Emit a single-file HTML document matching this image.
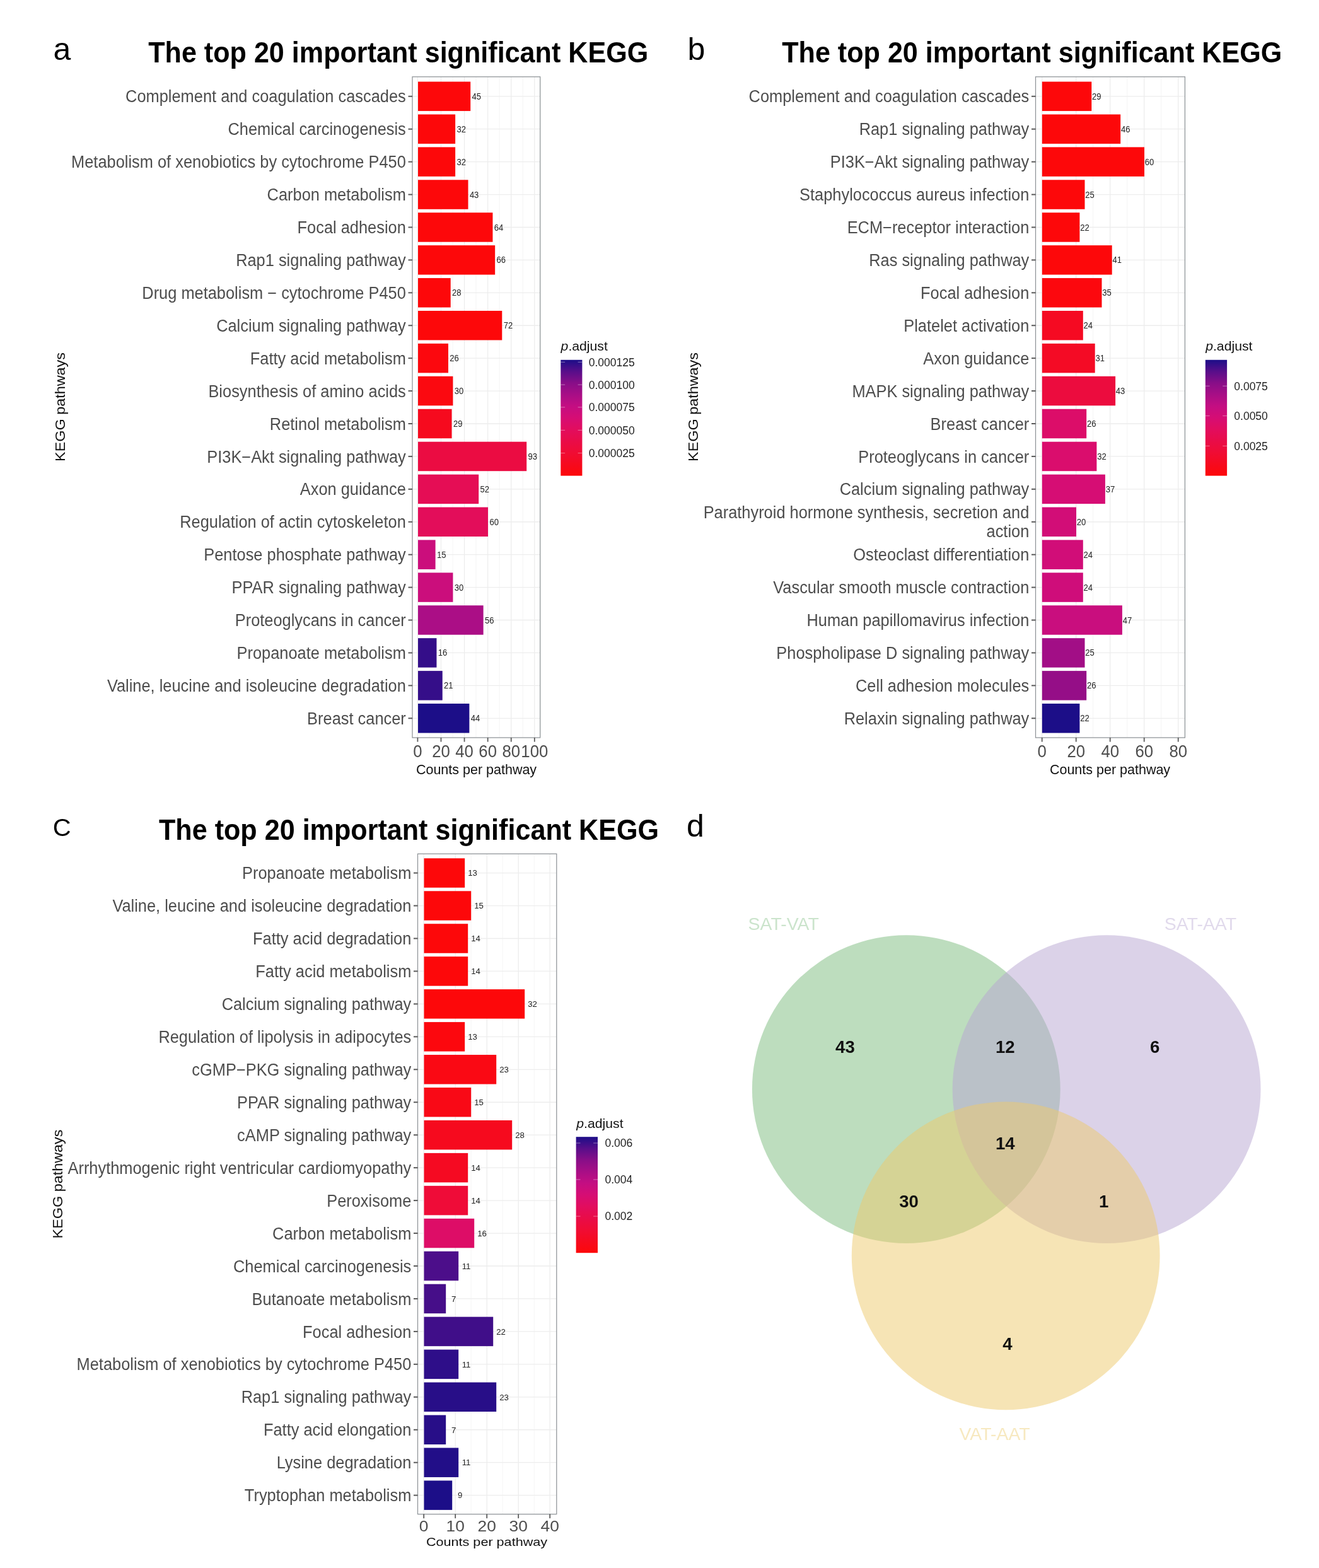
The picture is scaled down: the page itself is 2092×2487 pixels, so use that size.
<!DOCTYPE html>
<html lang="en">
<head>
<meta charset="utf-8">
<title>KEGG pathway enrichment</title>
<style>
html,body{margin:0;padding:0;background:#fff;}
body{width:2092px;height:2487px;overflow:hidden;}
svg{display:block;font-family:'Liberation Sans', Arial, Helvetica, sans-serif;}
</style>
</head>
<body>
<svg width="2092" height="2487" viewBox="0 0 2092 2487">
<rect width="2092" height="2487" fill="#fff"/>
<rect x="654" y="121.8" width="202.70000000000005" height="1048.2" fill="#fff"/>
<line x1="680.94" y1="121.8" x2="680.94" y2="1170" stroke="#f4f4f4" stroke-width="0.9"/>
<line x1="718.02" y1="121.8" x2="718.02" y2="1170" stroke="#f4f4f4" stroke-width="0.9"/>
<line x1="755.10" y1="121.8" x2="755.10" y2="1170" stroke="#f4f4f4" stroke-width="0.9"/>
<line x1="792.18" y1="121.8" x2="792.18" y2="1170" stroke="#f4f4f4" stroke-width="0.9"/>
<line x1="829.26" y1="121.8" x2="829.26" y2="1170" stroke="#f4f4f4" stroke-width="0.9"/>
<line x1="662.40" y1="121.8" x2="662.40" y2="1170" stroke="#ededed" stroke-width="1.3"/>
<line x1="699.48" y1="121.8" x2="699.48" y2="1170" stroke="#ededed" stroke-width="1.3"/>
<line x1="736.56" y1="121.8" x2="736.56" y2="1170" stroke="#ededed" stroke-width="1.3"/>
<line x1="773.64" y1="121.8" x2="773.64" y2="1170" stroke="#ededed" stroke-width="1.3"/>
<line x1="810.72" y1="121.8" x2="810.72" y2="1170" stroke="#ededed" stroke-width="1.3"/>
<line x1="847.80" y1="121.8" x2="847.80" y2="1170" stroke="#ededed" stroke-width="1.3"/>
<line x1="654" y1="152.80" x2="856.7" y2="152.80" stroke="#ededed" stroke-width="1.3"/>
<line x1="654" y1="204.72" x2="856.7" y2="204.72" stroke="#ededed" stroke-width="1.3"/>
<line x1="654" y1="256.64" x2="856.7" y2="256.64" stroke="#ededed" stroke-width="1.3"/>
<line x1="654" y1="308.56" x2="856.7" y2="308.56" stroke="#ededed" stroke-width="1.3"/>
<line x1="654" y1="360.48" x2="856.7" y2="360.48" stroke="#ededed" stroke-width="1.3"/>
<line x1="654" y1="412.40" x2="856.7" y2="412.40" stroke="#ededed" stroke-width="1.3"/>
<line x1="654" y1="464.32" x2="856.7" y2="464.32" stroke="#ededed" stroke-width="1.3"/>
<line x1="654" y1="516.24" x2="856.7" y2="516.24" stroke="#ededed" stroke-width="1.3"/>
<line x1="654" y1="568.16" x2="856.7" y2="568.16" stroke="#ededed" stroke-width="1.3"/>
<line x1="654" y1="620.08" x2="856.7" y2="620.08" stroke="#ededed" stroke-width="1.3"/>
<line x1="654" y1="672.00" x2="856.7" y2="672.00" stroke="#ededed" stroke-width="1.3"/>
<line x1="654" y1="723.92" x2="856.7" y2="723.92" stroke="#ededed" stroke-width="1.3"/>
<line x1="654" y1="775.84" x2="856.7" y2="775.84" stroke="#ededed" stroke-width="1.3"/>
<line x1="654" y1="827.76" x2="856.7" y2="827.76" stroke="#ededed" stroke-width="1.3"/>
<line x1="654" y1="879.68" x2="856.7" y2="879.68" stroke="#ededed" stroke-width="1.3"/>
<line x1="654" y1="931.60" x2="856.7" y2="931.60" stroke="#ededed" stroke-width="1.3"/>
<line x1="654" y1="983.52" x2="856.7" y2="983.52" stroke="#ededed" stroke-width="1.3"/>
<line x1="654" y1="1035.44" x2="856.7" y2="1035.44" stroke="#ededed" stroke-width="1.3"/>
<line x1="654" y1="1087.36" x2="856.7" y2="1087.36" stroke="#ededed" stroke-width="1.3"/>
<line x1="654" y1="1139.28" x2="856.7" y2="1139.28" stroke="#ededed" stroke-width="1.3"/>
<rect x="663.00" y="129.55" width="83.23" height="46.50" fill="#fd080a"/>
<text transform="translate(755.83 157.84) scale(0.9300 1.0000)" font-size="14" text-anchor="middle" fill="#222">45</text>
<rect x="663.00" y="181.47" width="59.13" height="46.50" fill="#fd080a"/>
<text transform="translate(731.73 209.76) scale(0.9300 1.0000)" font-size="14" text-anchor="middle" fill="#222">32</text>
<rect x="663.00" y="233.39" width="59.13" height="46.50" fill="#fd080a"/>
<text transform="translate(731.73 261.68) scale(0.9300 1.0000)" font-size="14" text-anchor="middle" fill="#222">32</text>
<rect x="663.00" y="285.31" width="79.52" height="46.50" fill="#fd080a"/>
<text transform="translate(752.12 313.60) scale(0.9300 1.0000)" font-size="14" text-anchor="middle" fill="#222">43</text>
<rect x="663.00" y="337.23" width="118.46" height="46.50" fill="#fd080a"/>
<text transform="translate(791.06 365.52) scale(0.9300 1.0000)" font-size="14" text-anchor="middle" fill="#222">64</text>
<rect x="663.00" y="389.15" width="122.16" height="46.50" fill="#fd080a"/>
<text transform="translate(794.76 417.44) scale(0.9300 1.0000)" font-size="14" text-anchor="middle" fill="#222">66</text>
<rect x="663.00" y="441.07" width="51.71" height="46.50" fill="#fd080a"/>
<text transform="translate(724.31 469.36) scale(0.9300 1.0000)" font-size="14" text-anchor="middle" fill="#222">28</text>
<rect x="663.00" y="492.99" width="133.29" height="46.50" fill="#fd080a"/>
<text transform="translate(805.89 521.28) scale(0.9300 1.0000)" font-size="14" text-anchor="middle" fill="#222">72</text>
<rect x="663.00" y="544.91" width="48.00" height="46.50" fill="#fc080e"/>
<text transform="translate(720.60 573.20) scale(0.9300 1.0000)" font-size="14" text-anchor="middle" fill="#222">26</text>
<rect x="663.00" y="596.83" width="55.42" height="46.50" fill="#fb0910"/>
<text transform="translate(728.02 625.12) scale(0.9300 1.0000)" font-size="14" text-anchor="middle" fill="#222">30</text>
<rect x="663.00" y="648.75" width="53.57" height="46.50" fill="#f60a1e"/>
<text transform="translate(726.17 677.04) scale(0.9300 1.0000)" font-size="14" text-anchor="middle" fill="#222">29</text>
<rect x="663.00" y="700.67" width="172.22" height="46.50" fill="#eb0c42"/>
<text transform="translate(844.82 728.96) scale(0.9300 1.0000)" font-size="14" text-anchor="middle" fill="#222">93</text>
<rect x="663.00" y="752.59" width="96.21" height="46.50" fill="#e50d55"/>
<text transform="translate(768.81 780.88) scale(0.9300 1.0000)" font-size="14" text-anchor="middle" fill="#222">52</text>
<rect x="663.00" y="804.51" width="111.04" height="46.50" fill="#e30d5a"/>
<text transform="translate(783.64 832.80) scale(0.9300 1.0000)" font-size="14" text-anchor="middle" fill="#222">60</text>
<rect x="663.00" y="856.43" width="27.61" height="46.50" fill="#cb0e7c"/>
<text transform="translate(700.21 884.72) scale(0.9300 1.0000)" font-size="14" text-anchor="middle" fill="#222">15</text>
<rect x="663.00" y="908.35" width="55.42" height="46.50" fill="#cb0e7c"/>
<text transform="translate(728.02 936.64) scale(0.9300 1.0000)" font-size="14" text-anchor="middle" fill="#222">30</text>
<rect x="663.00" y="960.27" width="103.62" height="46.50" fill="#ab0e86"/>
<text transform="translate(776.22 988.56) scale(0.9300 1.0000)" font-size="14" text-anchor="middle" fill="#222">56</text>
<rect x="663.00" y="1012.19" width="29.46" height="46.50" fill="#340e89"/>
<text transform="translate(702.06 1040.48) scale(0.9300 1.0000)" font-size="14" text-anchor="middle" fill="#222">16</text>
<rect x="663.00" y="1064.11" width="38.73" height="46.50" fill="#350e89"/>
<text transform="translate(711.33 1092.40) scale(0.9300 1.0000)" font-size="14" text-anchor="middle" fill="#222">21</text>
<rect x="663.00" y="1116.03" width="81.38" height="46.50" fill="#1c0e88"/>
<text transform="translate(753.98 1144.32) scale(0.9300 1.0000)" font-size="14" text-anchor="middle" fill="#222">44</text>
<rect x="654" y="121.8" width="202.70000000000005" height="1048.2" fill="none" stroke="#8e9397" stroke-width="1.25"/>
<line x1="647.5" y1="152.80" x2="654" y2="152.80" stroke="#5a5a5a" stroke-width="2"/>
<text transform="translate(643.80 162.40) scale(0.9410 1.0000)" font-size="27.0" text-anchor="end" fill="#4d4d4d">Complement and coagulation cascades</text>
<line x1="647.5" y1="204.72" x2="654" y2="204.72" stroke="#5a5a5a" stroke-width="2"/>
<text transform="translate(643.80 214.32) scale(0.9410 1.0000)" font-size="27.0" text-anchor="end" fill="#4d4d4d">Chemical carcinogenesis</text>
<line x1="647.5" y1="256.64" x2="654" y2="256.64" stroke="#5a5a5a" stroke-width="2"/>
<text transform="translate(643.80 266.24) scale(0.9410 1.0000)" font-size="27.0" text-anchor="end" fill="#4d4d4d">Metabolism of xenobiotics by cytochrome P450</text>
<line x1="647.5" y1="308.56" x2="654" y2="308.56" stroke="#5a5a5a" stroke-width="2"/>
<text transform="translate(643.80 318.16) scale(0.9410 1.0000)" font-size="27.0" text-anchor="end" fill="#4d4d4d">Carbon metabolism</text>
<line x1="647.5" y1="360.48" x2="654" y2="360.48" stroke="#5a5a5a" stroke-width="2"/>
<text transform="translate(643.80 370.08) scale(0.9410 1.0000)" font-size="27.0" text-anchor="end" fill="#4d4d4d">Focal adhesion</text>
<line x1="647.5" y1="412.40" x2="654" y2="412.40" stroke="#5a5a5a" stroke-width="2"/>
<text transform="translate(643.80 422.00) scale(0.9410 1.0000)" font-size="27.0" text-anchor="end" fill="#4d4d4d">Rap1 signaling pathway</text>
<line x1="647.5" y1="464.32" x2="654" y2="464.32" stroke="#5a5a5a" stroke-width="2"/>
<text transform="translate(643.80 473.92) scale(0.9410 1.0000)" font-size="27.0" text-anchor="end" fill="#4d4d4d">Drug metabolism − cytochrome P450</text>
<line x1="647.5" y1="516.24" x2="654" y2="516.24" stroke="#5a5a5a" stroke-width="2"/>
<text transform="translate(643.80 525.84) scale(0.9410 1.0000)" font-size="27.0" text-anchor="end" fill="#4d4d4d">Calcium signaling pathway</text>
<line x1="647.5" y1="568.16" x2="654" y2="568.16" stroke="#5a5a5a" stroke-width="2"/>
<text transform="translate(643.80 577.76) scale(0.9410 1.0000)" font-size="27.0" text-anchor="end" fill="#4d4d4d">Fatty acid metabolism</text>
<line x1="647.5" y1="620.08" x2="654" y2="620.08" stroke="#5a5a5a" stroke-width="2"/>
<text transform="translate(643.80 629.68) scale(0.9410 1.0000)" font-size="27.0" text-anchor="end" fill="#4d4d4d">Biosynthesis of amino acids</text>
<line x1="647.5" y1="672.00" x2="654" y2="672.00" stroke="#5a5a5a" stroke-width="2"/>
<text transform="translate(643.80 681.60) scale(0.9410 1.0000)" font-size="27.0" text-anchor="end" fill="#4d4d4d">Retinol metabolism</text>
<line x1="647.5" y1="723.92" x2="654" y2="723.92" stroke="#5a5a5a" stroke-width="2"/>
<text transform="translate(643.80 733.52) scale(0.9410 1.0000)" font-size="27.0" text-anchor="end" fill="#4d4d4d">PI3K−Akt signaling pathway</text>
<line x1="647.5" y1="775.84" x2="654" y2="775.84" stroke="#5a5a5a" stroke-width="2"/>
<text transform="translate(643.80 785.44) scale(0.9410 1.0000)" font-size="27.0" text-anchor="end" fill="#4d4d4d">Axon guidance</text>
<line x1="647.5" y1="827.76" x2="654" y2="827.76" stroke="#5a5a5a" stroke-width="2"/>
<text transform="translate(643.80 837.36) scale(0.9410 1.0000)" font-size="27.0" text-anchor="end" fill="#4d4d4d">Regulation of actin cytoskeleton</text>
<line x1="647.5" y1="879.68" x2="654" y2="879.68" stroke="#5a5a5a" stroke-width="2"/>
<text transform="translate(643.80 889.28) scale(0.9410 1.0000)" font-size="27.0" text-anchor="end" fill="#4d4d4d">Pentose phosphate pathway</text>
<line x1="647.5" y1="931.60" x2="654" y2="931.60" stroke="#5a5a5a" stroke-width="2"/>
<text transform="translate(643.80 941.20) scale(0.9410 1.0000)" font-size="27.0" text-anchor="end" fill="#4d4d4d">PPAR signaling pathway</text>
<line x1="647.5" y1="983.52" x2="654" y2="983.52" stroke="#5a5a5a" stroke-width="2"/>
<text transform="translate(643.80 993.12) scale(0.9410 1.0000)" font-size="27.0" text-anchor="end" fill="#4d4d4d">Proteoglycans in cancer</text>
<line x1="647.5" y1="1035.44" x2="654" y2="1035.44" stroke="#5a5a5a" stroke-width="2"/>
<text transform="translate(643.80 1045.04) scale(0.9410 1.0000)" font-size="27.0" text-anchor="end" fill="#4d4d4d">Propanoate metabolism</text>
<line x1="647.5" y1="1087.36" x2="654" y2="1087.36" stroke="#5a5a5a" stroke-width="2"/>
<text transform="translate(643.80 1096.96) scale(0.9410 1.0000)" font-size="27.0" text-anchor="end" fill="#4d4d4d">Valine, leucine and isoleucine degradation</text>
<line x1="647.5" y1="1139.28" x2="654" y2="1139.28" stroke="#5a5a5a" stroke-width="2"/>
<text transform="translate(643.80 1148.88) scale(0.9410 1.0000)" font-size="27.0" text-anchor="end" fill="#4d4d4d">Breast cancer</text>
<line x1="662.40" y1="1170" x2="662.40" y2="1176.6" stroke="#5a5a5a" stroke-width="1.8"/>
<text transform="translate(662.40 1200.80) scale(0.9100 1.0000)" font-size="28.3" text-anchor="middle" fill="#4d4d4d">0</text>
<line x1="699.48" y1="1170" x2="699.48" y2="1176.6" stroke="#5a5a5a" stroke-width="1.8"/>
<text transform="translate(699.48 1200.80) scale(0.9100 1.0000)" font-size="28.3" text-anchor="middle" fill="#4d4d4d">20</text>
<line x1="736.56" y1="1170" x2="736.56" y2="1176.6" stroke="#5a5a5a" stroke-width="1.8"/>
<text transform="translate(736.56 1200.80) scale(0.9100 1.0000)" font-size="28.3" text-anchor="middle" fill="#4d4d4d">40</text>
<line x1="773.64" y1="1170" x2="773.64" y2="1176.6" stroke="#5a5a5a" stroke-width="1.8"/>
<text transform="translate(773.64 1200.80) scale(0.9100 1.0000)" font-size="28.3" text-anchor="middle" fill="#4d4d4d">60</text>
<line x1="810.72" y1="1170" x2="810.72" y2="1176.6" stroke="#5a5a5a" stroke-width="1.8"/>
<text transform="translate(810.72 1200.80) scale(0.9100 1.0000)" font-size="28.3" text-anchor="middle" fill="#4d4d4d">80</text>
<line x1="847.80" y1="1170" x2="847.80" y2="1176.6" stroke="#5a5a5a" stroke-width="1.8"/>
<text transform="translate(847.80 1200.80) scale(0.9100 1.0000)" font-size="28.3" text-anchor="middle" fill="#4d4d4d">100</text>
<text transform="translate(755.50 1228.00) scale(0.9560 1.0000)" font-size="22.5" text-anchor="middle" fill="#111">Counts per pathway</text>
<text transform="translate(103.20 645.50) rotate(-90) scale(1.0450 1.0000)" font-size="22.4" text-anchor="middle" fill="#111">KEGG pathways</text>
<text transform="translate(235.20 99.30) scale(0.9215 1.0000)" font-size="46.8" text-anchor="start" fill="#000" font-weight="bold">The top 20 important significant KEGG</text>
<text transform="translate(84.50 95.00)" font-size="50" text-anchor="start" fill="#000">a</text>
<defs><linearGradient id="ga" x1="0" y1="0" x2="0" y2="1"><stop offset="0%" stop-color="#1c0e88"/><stop offset="10%" stop-color="#580e8a"/><stop offset="20%" stop-color="#880e88"/><stop offset="30%" stop-color="#a80e86"/><stop offset="40%" stop-color="#c40e82"/><stop offset="50%" stop-color="#d60d74"/><stop offset="60%" stop-color="#e20d5e"/><stop offset="70%" stop-color="#e90c48"/><stop offset="80%" stop-color="#f00c34"/><stop offset="90%" stop-color="#f60a1e"/><stop offset="100%" stop-color="#fd080a"/></linearGradient></defs>
<rect x="889.3" y="570.8" width="34.10000000000002" height="183.80000000000007" fill="url(#ga)"/>
<line x1="889.3" y1="574.4" x2="896.12" y2="574.4" stroke="#fff" stroke-opacity="0.35" stroke-width="1.2"/>
<line x1="916.58" y1="574.4" x2="923.4" y2="574.4" stroke="#fff" stroke-opacity="0.35" stroke-width="1.2"/>
<text transform="translate(933.70 580.70)" font-size="17.5" text-anchor="start" fill="#222">0.000125</text>
<line x1="889.3" y1="610.2" x2="896.12" y2="610.2" stroke="#fff" stroke-opacity="0.35" stroke-width="1.2"/>
<line x1="916.58" y1="610.2" x2="923.4" y2="610.2" stroke="#fff" stroke-opacity="0.35" stroke-width="1.2"/>
<text transform="translate(933.70 616.50)" font-size="17.5" text-anchor="start" fill="#222">0.000100</text>
<line x1="889.3" y1="645.9" x2="896.12" y2="645.9" stroke="#fff" stroke-opacity="0.35" stroke-width="1.2"/>
<line x1="916.58" y1="645.9" x2="923.4" y2="645.9" stroke="#fff" stroke-opacity="0.35" stroke-width="1.2"/>
<text transform="translate(933.70 652.20)" font-size="17.5" text-anchor="start" fill="#222">0.000075</text>
<line x1="889.3" y1="682.4" x2="896.12" y2="682.4" stroke="#fff" stroke-opacity="0.35" stroke-width="1.2"/>
<line x1="916.58" y1="682.4" x2="923.4" y2="682.4" stroke="#fff" stroke-opacity="0.35" stroke-width="1.2"/>
<text transform="translate(933.70 688.70)" font-size="17.5" text-anchor="start" fill="#222">0.000050</text>
<line x1="889.3" y1="718.6" x2="896.12" y2="718.6" stroke="#fff" stroke-opacity="0.35" stroke-width="1.2"/>
<line x1="916.58" y1="718.6" x2="923.4" y2="718.6" stroke="#fff" stroke-opacity="0.35" stroke-width="1.2"/>
<text transform="translate(933.70 724.90)" font-size="17.5" text-anchor="start" fill="#222">0.000025</text>
<text transform="translate(889.60 556.00) scale(1.0340 1.0000)" font-size="20.5" text-anchor="start" fill="#111"><tspan font-style="italic">p</tspan>.adjust</text>
<rect x="1642.5" y="121.8" width="236.9000000000001" height="1048.2" fill="#fff"/>
<line x1="1679.70" y1="121.8" x2="1679.70" y2="1170" stroke="#f4f4f4" stroke-width="0.9"/>
<line x1="1733.70" y1="121.8" x2="1733.70" y2="1170" stroke="#f4f4f4" stroke-width="0.9"/>
<line x1="1787.70" y1="121.8" x2="1787.70" y2="1170" stroke="#f4f4f4" stroke-width="0.9"/>
<line x1="1841.70" y1="121.8" x2="1841.70" y2="1170" stroke="#f4f4f4" stroke-width="0.9"/>
<line x1="1652.70" y1="121.8" x2="1652.70" y2="1170" stroke="#ededed" stroke-width="1.3"/>
<line x1="1706.70" y1="121.8" x2="1706.70" y2="1170" stroke="#ededed" stroke-width="1.3"/>
<line x1="1760.70" y1="121.8" x2="1760.70" y2="1170" stroke="#ededed" stroke-width="1.3"/>
<line x1="1814.70" y1="121.8" x2="1814.70" y2="1170" stroke="#ededed" stroke-width="1.3"/>
<line x1="1868.70" y1="121.8" x2="1868.70" y2="1170" stroke="#ededed" stroke-width="1.3"/>
<line x1="1642.5" y1="152.80" x2="1879.4" y2="152.80" stroke="#ededed" stroke-width="1.3"/>
<line x1="1642.5" y1="204.72" x2="1879.4" y2="204.72" stroke="#ededed" stroke-width="1.3"/>
<line x1="1642.5" y1="256.64" x2="1879.4" y2="256.64" stroke="#ededed" stroke-width="1.3"/>
<line x1="1642.5" y1="308.56" x2="1879.4" y2="308.56" stroke="#ededed" stroke-width="1.3"/>
<line x1="1642.5" y1="360.48" x2="1879.4" y2="360.48" stroke="#ededed" stroke-width="1.3"/>
<line x1="1642.5" y1="412.40" x2="1879.4" y2="412.40" stroke="#ededed" stroke-width="1.3"/>
<line x1="1642.5" y1="464.32" x2="1879.4" y2="464.32" stroke="#ededed" stroke-width="1.3"/>
<line x1="1642.5" y1="516.24" x2="1879.4" y2="516.24" stroke="#ededed" stroke-width="1.3"/>
<line x1="1642.5" y1="568.16" x2="1879.4" y2="568.16" stroke="#ededed" stroke-width="1.3"/>
<line x1="1642.5" y1="620.08" x2="1879.4" y2="620.08" stroke="#ededed" stroke-width="1.3"/>
<line x1="1642.5" y1="672.00" x2="1879.4" y2="672.00" stroke="#ededed" stroke-width="1.3"/>
<line x1="1642.5" y1="723.92" x2="1879.4" y2="723.92" stroke="#ededed" stroke-width="1.3"/>
<line x1="1642.5" y1="775.84" x2="1879.4" y2="775.84" stroke="#ededed" stroke-width="1.3"/>
<line x1="1642.5" y1="827.76" x2="1879.4" y2="827.76" stroke="#ededed" stroke-width="1.3"/>
<line x1="1642.5" y1="879.68" x2="1879.4" y2="879.68" stroke="#ededed" stroke-width="1.3"/>
<line x1="1642.5" y1="931.60" x2="1879.4" y2="931.60" stroke="#ededed" stroke-width="1.3"/>
<line x1="1642.5" y1="983.52" x2="1879.4" y2="983.52" stroke="#ededed" stroke-width="1.3"/>
<line x1="1642.5" y1="1035.44" x2="1879.4" y2="1035.44" stroke="#ededed" stroke-width="1.3"/>
<line x1="1642.5" y1="1087.36" x2="1879.4" y2="1087.36" stroke="#ededed" stroke-width="1.3"/>
<line x1="1642.5" y1="1139.28" x2="1879.4" y2="1139.28" stroke="#ededed" stroke-width="1.3"/>
<rect x="1652.80" y="129.55" width="78.50" height="46.50" fill="#fd080a"/>
<text transform="translate(1739.30 157.84) scale(0.9300 1.0000)" font-size="14" text-anchor="middle" fill="#222">29</text>
<rect x="1652.80" y="181.47" width="124.40" height="46.50" fill="#fd080a"/>
<text transform="translate(1785.20 209.76) scale(0.9300 1.0000)" font-size="14" text-anchor="middle" fill="#222">46</text>
<rect x="1652.80" y="233.39" width="162.20" height="46.50" fill="#fd080a"/>
<text transform="translate(1823.00 261.68) scale(0.9300 1.0000)" font-size="14" text-anchor="middle" fill="#222">60</text>
<rect x="1652.80" y="285.31" width="67.70" height="46.50" fill="#fd080a"/>
<text transform="translate(1728.50 313.60) scale(0.9300 1.0000)" font-size="14" text-anchor="middle" fill="#222">25</text>
<rect x="1652.80" y="337.23" width="59.60" height="46.50" fill="#fd080a"/>
<text transform="translate(1720.40 365.52) scale(0.9300 1.0000)" font-size="14" text-anchor="middle" fill="#222">22</text>
<rect x="1652.80" y="389.15" width="110.90" height="46.50" fill="#fd080a"/>
<text transform="translate(1771.70 417.44) scale(0.9300 1.0000)" font-size="14" text-anchor="middle" fill="#222">41</text>
<rect x="1652.80" y="441.07" width="94.70" height="46.50" fill="#fc080e"/>
<text transform="translate(1755.50 469.36) scale(0.9300 1.0000)" font-size="14" text-anchor="middle" fill="#222">35</text>
<rect x="1652.80" y="492.99" width="65.00" height="46.50" fill="#f50a22"/>
<text transform="translate(1725.80 521.28) scale(0.9300 1.0000)" font-size="14" text-anchor="middle" fill="#222">24</text>
<rect x="1652.80" y="544.91" width="83.90" height="46.50" fill="#f40b25"/>
<text transform="translate(1744.70 573.20) scale(0.9300 1.0000)" font-size="14" text-anchor="middle" fill="#222">31</text>
<rect x="1652.80" y="596.83" width="116.30" height="46.50" fill="#ec0c3e"/>
<text transform="translate(1777.10 625.12) scale(0.9300 1.0000)" font-size="14" text-anchor="middle" fill="#222">43</text>
<rect x="1652.80" y="648.75" width="70.40" height="46.50" fill="#dc0d69"/>
<text transform="translate(1731.20 677.04) scale(0.9300 1.0000)" font-size="14" text-anchor="middle" fill="#222">26</text>
<rect x="1652.80" y="700.67" width="86.60" height="46.50" fill="#da0d6d"/>
<text transform="translate(1747.40 728.96) scale(0.9300 1.0000)" font-size="14" text-anchor="middle" fill="#222">32</text>
<rect x="1652.80" y="752.59" width="100.10" height="46.50" fill="#d60d74"/>
<text transform="translate(1760.90 780.88) scale(0.9300 1.0000)" font-size="14" text-anchor="middle" fill="#222">37</text>
<rect x="1652.80" y="804.51" width="54.20" height="46.50" fill="#d20d77"/>
<text transform="translate(1715.00 832.80) scale(0.9300 1.0000)" font-size="14" text-anchor="middle" fill="#222">20</text>
<rect x="1652.80" y="856.43" width="65.00" height="46.50" fill="#d10d78"/>
<text transform="translate(1725.80 884.72) scale(0.9300 1.0000)" font-size="14" text-anchor="middle" fill="#222">24</text>
<rect x="1652.80" y="908.35" width="65.00" height="46.50" fill="#cf0d7a"/>
<text transform="translate(1725.80 936.64) scale(0.9300 1.0000)" font-size="14" text-anchor="middle" fill="#222">24</text>
<rect x="1652.80" y="960.27" width="127.10" height="46.50" fill="#c90e7e"/>
<text transform="translate(1787.90 988.56) scale(0.9300 1.0000)" font-size="14" text-anchor="middle" fill="#222">47</text>
<rect x="1652.80" y="1012.19" width="67.70" height="46.50" fill="#a20e86"/>
<text transform="translate(1728.50 1040.48) scale(0.9300 1.0000)" font-size="14" text-anchor="middle" fill="#222">25</text>
<rect x="1652.80" y="1064.11" width="70.40" height="46.50" fill="#950e87"/>
<text transform="translate(1731.20 1092.40) scale(0.9300 1.0000)" font-size="14" text-anchor="middle" fill="#222">26</text>
<rect x="1652.80" y="1116.03" width="59.60" height="46.50" fill="#1c0e88"/>
<text transform="translate(1720.40 1144.32) scale(0.9300 1.0000)" font-size="14" text-anchor="middle" fill="#222">22</text>
<rect x="1642.5" y="121.8" width="236.9000000000001" height="1048.2" fill="none" stroke="#8e9397" stroke-width="1.25"/>
<line x1="1636.0" y1="152.80" x2="1642.5" y2="152.80" stroke="#5a5a5a" stroke-width="2"/>
<text transform="translate(1632.30 162.40) scale(0.9410 1.0000)" font-size="27.0" text-anchor="end" fill="#4d4d4d">Complement and coagulation cascades</text>
<line x1="1636.0" y1="204.72" x2="1642.5" y2="204.72" stroke="#5a5a5a" stroke-width="2"/>
<text transform="translate(1632.30 214.32) scale(0.9410 1.0000)" font-size="27.0" text-anchor="end" fill="#4d4d4d">Rap1 signaling pathway</text>
<line x1="1636.0" y1="256.64" x2="1642.5" y2="256.64" stroke="#5a5a5a" stroke-width="2"/>
<text transform="translate(1632.30 266.24) scale(0.9410 1.0000)" font-size="27.0" text-anchor="end" fill="#4d4d4d">PI3K−Akt signaling pathway</text>
<line x1="1636.0" y1="308.56" x2="1642.5" y2="308.56" stroke="#5a5a5a" stroke-width="2"/>
<text transform="translate(1632.30 318.16) scale(0.9410 1.0000)" font-size="27.0" text-anchor="end" fill="#4d4d4d">Staphylococcus aureus infection</text>
<line x1="1636.0" y1="360.48" x2="1642.5" y2="360.48" stroke="#5a5a5a" stroke-width="2"/>
<text transform="translate(1632.30 370.08) scale(0.9410 1.0000)" font-size="27.0" text-anchor="end" fill="#4d4d4d">ECM−receptor interaction</text>
<line x1="1636.0" y1="412.40" x2="1642.5" y2="412.40" stroke="#5a5a5a" stroke-width="2"/>
<text transform="translate(1632.30 422.00) scale(0.9410 1.0000)" font-size="27.0" text-anchor="end" fill="#4d4d4d">Ras signaling pathway</text>
<line x1="1636.0" y1="464.32" x2="1642.5" y2="464.32" stroke="#5a5a5a" stroke-width="2"/>
<text transform="translate(1632.30 473.92) scale(0.9410 1.0000)" font-size="27.0" text-anchor="end" fill="#4d4d4d">Focal adhesion</text>
<line x1="1636.0" y1="516.24" x2="1642.5" y2="516.24" stroke="#5a5a5a" stroke-width="2"/>
<text transform="translate(1632.30 525.84) scale(0.9410 1.0000)" font-size="27.0" text-anchor="end" fill="#4d4d4d">Platelet activation</text>
<line x1="1636.0" y1="568.16" x2="1642.5" y2="568.16" stroke="#5a5a5a" stroke-width="2"/>
<text transform="translate(1632.30 577.76) scale(0.9410 1.0000)" font-size="27.0" text-anchor="end" fill="#4d4d4d">Axon guidance</text>
<line x1="1636.0" y1="620.08" x2="1642.5" y2="620.08" stroke="#5a5a5a" stroke-width="2"/>
<text transform="translate(1632.30 629.68) scale(0.9410 1.0000)" font-size="27.0" text-anchor="end" fill="#4d4d4d">MAPK signaling pathway</text>
<line x1="1636.0" y1="672.00" x2="1642.5" y2="672.00" stroke="#5a5a5a" stroke-width="2"/>
<text transform="translate(1632.30 681.60) scale(0.9410 1.0000)" font-size="27.0" text-anchor="end" fill="#4d4d4d">Breast cancer</text>
<line x1="1636.0" y1="723.92" x2="1642.5" y2="723.92" stroke="#5a5a5a" stroke-width="2"/>
<text transform="translate(1632.30 733.52) scale(0.9410 1.0000)" font-size="27.0" text-anchor="end" fill="#4d4d4d">Proteoglycans in cancer</text>
<line x1="1636.0" y1="775.84" x2="1642.5" y2="775.84" stroke="#5a5a5a" stroke-width="2"/>
<text transform="translate(1632.30 785.44) scale(0.9410 1.0000)" font-size="27.0" text-anchor="end" fill="#4d4d4d">Calcium signaling pathway</text>
<line x1="1636.0" y1="827.76" x2="1642.5" y2="827.76" stroke="#5a5a5a" stroke-width="2"/>
<text transform="translate(1632.30 822.31) scale(0.9410 1.0000)" font-size="27.0" text-anchor="end" fill="#4d4d4d">Parathyroid hormone synthesis, secretion and</text>
<text transform="translate(1632.30 852.41) scale(0.9410 1.0000)" font-size="27.0" text-anchor="end" fill="#4d4d4d">action</text>
<line x1="1636.0" y1="879.68" x2="1642.5" y2="879.68" stroke="#5a5a5a" stroke-width="2"/>
<text transform="translate(1632.30 889.28) scale(0.9410 1.0000)" font-size="27.0" text-anchor="end" fill="#4d4d4d">Osteoclast differentiation</text>
<line x1="1636.0" y1="931.60" x2="1642.5" y2="931.60" stroke="#5a5a5a" stroke-width="2"/>
<text transform="translate(1632.30 941.20) scale(0.9410 1.0000)" font-size="27.0" text-anchor="end" fill="#4d4d4d">Vascular smooth muscle contraction</text>
<line x1="1636.0" y1="983.52" x2="1642.5" y2="983.52" stroke="#5a5a5a" stroke-width="2"/>
<text transform="translate(1632.30 993.12) scale(0.9410 1.0000)" font-size="27.0" text-anchor="end" fill="#4d4d4d">Human papillomavirus infection</text>
<line x1="1636.0" y1="1035.44" x2="1642.5" y2="1035.44" stroke="#5a5a5a" stroke-width="2"/>
<text transform="translate(1632.30 1045.04) scale(0.9410 1.0000)" font-size="27.0" text-anchor="end" fill="#4d4d4d">Phospholipase D signaling pathway</text>
<line x1="1636.0" y1="1087.36" x2="1642.5" y2="1087.36" stroke="#5a5a5a" stroke-width="2"/>
<text transform="translate(1632.30 1096.96) scale(0.9410 1.0000)" font-size="27.0" text-anchor="end" fill="#4d4d4d">Cell adhesion molecules</text>
<line x1="1636.0" y1="1139.28" x2="1642.5" y2="1139.28" stroke="#5a5a5a" stroke-width="2"/>
<text transform="translate(1632.30 1148.88) scale(0.9410 1.0000)" font-size="27.0" text-anchor="end" fill="#4d4d4d">Relaxin signaling pathway</text>
<line x1="1652.70" y1="1170" x2="1652.70" y2="1176.6" stroke="#5a5a5a" stroke-width="1.8"/>
<text transform="translate(1652.70 1200.80) scale(0.9100 1.0000)" font-size="28.3" text-anchor="middle" fill="#4d4d4d">0</text>
<line x1="1706.70" y1="1170" x2="1706.70" y2="1176.6" stroke="#5a5a5a" stroke-width="1.8"/>
<text transform="translate(1706.70 1200.80) scale(0.9100 1.0000)" font-size="28.3" text-anchor="middle" fill="#4d4d4d">20</text>
<line x1="1760.70" y1="1170" x2="1760.70" y2="1176.6" stroke="#5a5a5a" stroke-width="1.8"/>
<text transform="translate(1760.70 1200.80) scale(0.9100 1.0000)" font-size="28.3" text-anchor="middle" fill="#4d4d4d">40</text>
<line x1="1814.70" y1="1170" x2="1814.70" y2="1176.6" stroke="#5a5a5a" stroke-width="1.8"/>
<text transform="translate(1814.70 1200.80) scale(0.9100 1.0000)" font-size="28.3" text-anchor="middle" fill="#4d4d4d">60</text>
<line x1="1868.70" y1="1170" x2="1868.70" y2="1176.6" stroke="#5a5a5a" stroke-width="1.8"/>
<text transform="translate(1868.70 1200.80) scale(0.9100 1.0000)" font-size="28.3" text-anchor="middle" fill="#4d4d4d">80</text>
<text transform="translate(1760.50 1228.00) scale(0.9560 1.0000)" font-size="22.5" text-anchor="middle" fill="#111">Counts per pathway</text>
<text transform="translate(1106.90 645.50) rotate(-90) scale(1.0450 1.0000)" font-size="22.4" text-anchor="middle" fill="#111">KEGG pathways</text>
<text transform="translate(1240.20 99.30) scale(0.9215 1.0000)" font-size="46.8" text-anchor="start" fill="#000" font-weight="bold">The top 20 important significant KEGG</text>
<text transform="translate(1090.50 95.00)" font-size="50" text-anchor="start" fill="#000">b</text>
<defs><linearGradient id="gb" x1="0" y1="0" x2="0" y2="1"><stop offset="0%" stop-color="#1c0e88"/><stop offset="10%" stop-color="#580e8a"/><stop offset="20%" stop-color="#880e88"/><stop offset="30%" stop-color="#a80e86"/><stop offset="40%" stop-color="#c40e82"/><stop offset="50%" stop-color="#d60d74"/><stop offset="60%" stop-color="#e20d5e"/><stop offset="70%" stop-color="#e90c48"/><stop offset="80%" stop-color="#f00c34"/><stop offset="90%" stop-color="#f60a1e"/><stop offset="100%" stop-color="#fd080a"/></linearGradient></defs>
<rect x="1911.8" y="570.8" width="34.299999999999955" height="183.80000000000007" fill="url(#gb)"/>
<line x1="1911.8" y1="612.3" x2="1918.66" y2="612.3" stroke="#fff" stroke-opacity="0.35" stroke-width="1.2"/>
<line x1="1939.24" y1="612.3" x2="1946.1" y2="612.3" stroke="#fff" stroke-opacity="0.35" stroke-width="1.2"/>
<text transform="translate(1957.30 618.60)" font-size="17.5" text-anchor="start" fill="#222">0.0075</text>
<line x1="1911.8" y1="659.5" x2="1918.66" y2="659.5" stroke="#fff" stroke-opacity="0.35" stroke-width="1.2"/>
<line x1="1939.24" y1="659.5" x2="1946.1" y2="659.5" stroke="#fff" stroke-opacity="0.35" stroke-width="1.2"/>
<text transform="translate(1957.30 665.80)" font-size="17.5" text-anchor="start" fill="#222">0.0050</text>
<line x1="1911.8" y1="707.4" x2="1918.66" y2="707.4" stroke="#fff" stroke-opacity="0.35" stroke-width="1.2"/>
<line x1="1939.24" y1="707.4" x2="1946.1" y2="707.4" stroke="#fff" stroke-opacity="0.35" stroke-width="1.2"/>
<text transform="translate(1957.30 713.70)" font-size="17.5" text-anchor="start" fill="#222">0.0025</text>
<text transform="translate(1912.20 556.00) scale(1.0340 1.0000)" font-size="20.5" text-anchor="start" fill="#111"><tspan font-style="italic">p</tspan>.adjust</text>
<rect x="662.5" y="1354.3" width="220.29999999999995" height="1047.3" fill="#fff"/>
<line x1="697.20" y1="1354.3" x2="697.20" y2="2401.6" stroke="#f4f4f4" stroke-width="0.9"/>
<line x1="747.20" y1="1354.3" x2="747.20" y2="2401.6" stroke="#f4f4f4" stroke-width="0.9"/>
<line x1="797.20" y1="1354.3" x2="797.20" y2="2401.6" stroke="#f4f4f4" stroke-width="0.9"/>
<line x1="847.20" y1="1354.3" x2="847.20" y2="2401.6" stroke="#f4f4f4" stroke-width="0.9"/>
<line x1="672.20" y1="1354.3" x2="672.20" y2="2401.6" stroke="#ededed" stroke-width="1.3"/>
<line x1="722.20" y1="1354.3" x2="722.20" y2="2401.6" stroke="#ededed" stroke-width="1.3"/>
<line x1="772.20" y1="1354.3" x2="772.20" y2="2401.6" stroke="#ededed" stroke-width="1.3"/>
<line x1="822.20" y1="1354.3" x2="822.20" y2="2401.6" stroke="#ededed" stroke-width="1.3"/>
<line x1="872.20" y1="1354.3" x2="872.20" y2="2401.6" stroke="#ededed" stroke-width="1.3"/>
<line x1="662.5" y1="1384.60" x2="882.8" y2="1384.60" stroke="#ededed" stroke-width="1.3"/>
<line x1="662.5" y1="1436.55" x2="882.8" y2="1436.55" stroke="#ededed" stroke-width="1.3"/>
<line x1="662.5" y1="1488.50" x2="882.8" y2="1488.50" stroke="#ededed" stroke-width="1.3"/>
<line x1="662.5" y1="1540.45" x2="882.8" y2="1540.45" stroke="#ededed" stroke-width="1.3"/>
<line x1="662.5" y1="1592.40" x2="882.8" y2="1592.40" stroke="#ededed" stroke-width="1.3"/>
<line x1="662.5" y1="1644.35" x2="882.8" y2="1644.35" stroke="#ededed" stroke-width="1.3"/>
<line x1="662.5" y1="1696.30" x2="882.8" y2="1696.30" stroke="#ededed" stroke-width="1.3"/>
<line x1="662.5" y1="1748.25" x2="882.8" y2="1748.25" stroke="#ededed" stroke-width="1.3"/>
<line x1="662.5" y1="1800.20" x2="882.8" y2="1800.20" stroke="#ededed" stroke-width="1.3"/>
<line x1="662.5" y1="1852.15" x2="882.8" y2="1852.15" stroke="#ededed" stroke-width="1.3"/>
<line x1="662.5" y1="1904.10" x2="882.8" y2="1904.10" stroke="#ededed" stroke-width="1.3"/>
<line x1="662.5" y1="1956.05" x2="882.8" y2="1956.05" stroke="#ededed" stroke-width="1.3"/>
<line x1="662.5" y1="2008.00" x2="882.8" y2="2008.00" stroke="#ededed" stroke-width="1.3"/>
<line x1="662.5" y1="2059.95" x2="882.8" y2="2059.95" stroke="#ededed" stroke-width="1.3"/>
<line x1="662.5" y1="2111.90" x2="882.8" y2="2111.90" stroke="#ededed" stroke-width="1.3"/>
<line x1="662.5" y1="2163.85" x2="882.8" y2="2163.85" stroke="#ededed" stroke-width="1.3"/>
<line x1="662.5" y1="2215.80" x2="882.8" y2="2215.80" stroke="#ededed" stroke-width="1.3"/>
<line x1="662.5" y1="2267.75" x2="882.8" y2="2267.75" stroke="#ededed" stroke-width="1.3"/>
<line x1="662.5" y1="2319.70" x2="882.8" y2="2319.70" stroke="#ededed" stroke-width="1.3"/>
<line x1="662.5" y1="2371.65" x2="882.8" y2="2371.65" stroke="#ededed" stroke-width="1.3"/>
<rect x="672.50" y="1361.35" width="64.70" height="46.50" fill="#fd080a"/>
<text transform="translate(749.60 1389.35)" font-size="13.2" text-anchor="middle" fill="#222">13</text>
<rect x="672.50" y="1413.30" width="74.70" height="46.50" fill="#fd080a"/>
<text transform="translate(759.60 1441.30)" font-size="13.2" text-anchor="middle" fill="#222">15</text>
<rect x="672.50" y="1465.25" width="69.70" height="46.50" fill="#fd080a"/>
<text transform="translate(754.60 1493.25)" font-size="13.2" text-anchor="middle" fill="#222">14</text>
<rect x="672.50" y="1517.20" width="69.70" height="46.50" fill="#fd080a"/>
<text transform="translate(754.60 1545.20)" font-size="13.2" text-anchor="middle" fill="#222">14</text>
<rect x="672.50" y="1569.15" width="159.70" height="46.50" fill="#fd080a"/>
<text transform="translate(844.60 1597.15)" font-size="13.2" text-anchor="middle" fill="#222">32</text>
<rect x="672.50" y="1621.10" width="64.70" height="46.50" fill="#fc080e"/>
<text transform="translate(749.60 1649.10)" font-size="13.2" text-anchor="middle" fill="#222">13</text>
<rect x="672.50" y="1673.05" width="114.70" height="46.50" fill="#fa0914"/>
<text transform="translate(799.60 1701.05)" font-size="13.2" text-anchor="middle" fill="#222">23</text>
<rect x="672.50" y="1725.00" width="74.70" height="46.50" fill="#f90916"/>
<text transform="translate(759.60 1753.00)" font-size="13.2" text-anchor="middle" fill="#222">15</text>
<rect x="672.50" y="1776.95" width="139.70" height="46.50" fill="#f60a1e"/>
<text transform="translate(824.60 1804.95)" font-size="13.2" text-anchor="middle" fill="#222">28</text>
<rect x="672.50" y="1828.90" width="69.70" height="46.50" fill="#f50a22"/>
<text transform="translate(754.60 1856.90)" font-size="13.2" text-anchor="middle" fill="#222">14</text>
<rect x="672.50" y="1880.85" width="69.70" height="46.50" fill="#ef0c38"/>
<text transform="translate(754.60 1908.85)" font-size="13.2" text-anchor="middle" fill="#222">14</text>
<rect x="672.50" y="1932.80" width="79.70" height="46.50" fill="#dd0d67"/>
<text transform="translate(764.60 1960.80)" font-size="13.2" text-anchor="middle" fill="#222">16</text>
<rect x="672.50" y="1984.75" width="54.70" height="46.50" fill="#4c0e8a"/>
<text transform="translate(739.60 2012.75)" font-size="13.2" text-anchor="middle" fill="#222">11</text>
<rect x="672.50" y="2036.70" width="34.70" height="46.50" fill="#460e89"/>
<text transform="translate(719.60 2064.70)" font-size="13.2" text-anchor="middle" fill="#222">7</text>
<rect x="672.50" y="2088.65" width="109.70" height="46.50" fill="#400e89"/>
<text transform="translate(794.60 2116.65)" font-size="13.2" text-anchor="middle" fill="#222">22</text>
<rect x="672.50" y="2140.60" width="54.70" height="46.50" fill="#2e0e89"/>
<text transform="translate(739.60 2168.60)" font-size="13.2" text-anchor="middle" fill="#222">11</text>
<rect x="672.50" y="2192.55" width="114.70" height="46.50" fill="#280e88"/>
<text transform="translate(799.60 2220.55)" font-size="13.2" text-anchor="middle" fill="#222">23</text>
<rect x="672.50" y="2244.50" width="34.70" height="46.50" fill="#280e88"/>
<text transform="translate(719.60 2272.50)" font-size="13.2" text-anchor="middle" fill="#222">7</text>
<rect x="672.50" y="2296.45" width="54.70" height="46.50" fill="#220e88"/>
<text transform="translate(739.60 2324.45)" font-size="13.2" text-anchor="middle" fill="#222">11</text>
<rect x="672.50" y="2348.40" width="44.70" height="46.50" fill="#1c0e88"/>
<text transform="translate(729.60 2376.40)" font-size="13.2" text-anchor="middle" fill="#222">9</text>
<rect x="662.5" y="1354.3" width="220.29999999999995" height="1047.3" fill="none" stroke="#8e9397" stroke-width="1.25"/>
<line x1="656.0" y1="1384.60" x2="662.5" y2="1384.60" stroke="#5a5a5a" stroke-width="2"/>
<text transform="translate(652.30 1394.20) scale(0.9410 1.0000)" font-size="27.0" text-anchor="end" fill="#4d4d4d">Propanoate metabolism</text>
<line x1="656.0" y1="1436.55" x2="662.5" y2="1436.55" stroke="#5a5a5a" stroke-width="2"/>
<text transform="translate(652.30 1446.15) scale(0.9410 1.0000)" font-size="27.0" text-anchor="end" fill="#4d4d4d">Valine, leucine and isoleucine degradation</text>
<line x1="656.0" y1="1488.50" x2="662.5" y2="1488.50" stroke="#5a5a5a" stroke-width="2"/>
<text transform="translate(652.30 1498.10) scale(0.9410 1.0000)" font-size="27.0" text-anchor="end" fill="#4d4d4d">Fatty acid degradation</text>
<line x1="656.0" y1="1540.45" x2="662.5" y2="1540.45" stroke="#5a5a5a" stroke-width="2"/>
<text transform="translate(652.30 1550.05) scale(0.9410 1.0000)" font-size="27.0" text-anchor="end" fill="#4d4d4d">Fatty acid metabolism</text>
<line x1="656.0" y1="1592.40" x2="662.5" y2="1592.40" stroke="#5a5a5a" stroke-width="2"/>
<text transform="translate(652.30 1602.00) scale(0.9410 1.0000)" font-size="27.0" text-anchor="end" fill="#4d4d4d">Calcium signaling pathway</text>
<line x1="656.0" y1="1644.35" x2="662.5" y2="1644.35" stroke="#5a5a5a" stroke-width="2"/>
<text transform="translate(652.30 1653.95) scale(0.9410 1.0000)" font-size="27.0" text-anchor="end" fill="#4d4d4d">Regulation of lipolysis in adipocytes</text>
<line x1="656.0" y1="1696.30" x2="662.5" y2="1696.30" stroke="#5a5a5a" stroke-width="2"/>
<text transform="translate(652.30 1705.90) scale(0.9410 1.0000)" font-size="27.0" text-anchor="end" fill="#4d4d4d">cGMP−PKG signaling pathway</text>
<line x1="656.0" y1="1748.25" x2="662.5" y2="1748.25" stroke="#5a5a5a" stroke-width="2"/>
<text transform="translate(652.30 1757.85) scale(0.9410 1.0000)" font-size="27.0" text-anchor="end" fill="#4d4d4d">PPAR signaling pathway</text>
<line x1="656.0" y1="1800.20" x2="662.5" y2="1800.20" stroke="#5a5a5a" stroke-width="2"/>
<text transform="translate(652.30 1809.80) scale(0.9410 1.0000)" font-size="27.0" text-anchor="end" fill="#4d4d4d">cAMP signaling pathway</text>
<line x1="656.0" y1="1852.15" x2="662.5" y2="1852.15" stroke="#5a5a5a" stroke-width="2"/>
<text transform="translate(652.30 1861.75) scale(0.9410 1.0000)" font-size="27.0" text-anchor="end" fill="#4d4d4d">Arrhythmogenic right ventricular cardiomyopathy</text>
<line x1="656.0" y1="1904.10" x2="662.5" y2="1904.10" stroke="#5a5a5a" stroke-width="2"/>
<text transform="translate(652.30 1913.70) scale(0.9410 1.0000)" font-size="27.0" text-anchor="end" fill="#4d4d4d">Peroxisome</text>
<line x1="656.0" y1="1956.05" x2="662.5" y2="1956.05" stroke="#5a5a5a" stroke-width="2"/>
<text transform="translate(652.30 1965.65) scale(0.9410 1.0000)" font-size="27.0" text-anchor="end" fill="#4d4d4d">Carbon metabolism</text>
<line x1="656.0" y1="2008.00" x2="662.5" y2="2008.00" stroke="#5a5a5a" stroke-width="2"/>
<text transform="translate(652.30 2017.60) scale(0.9410 1.0000)" font-size="27.0" text-anchor="end" fill="#4d4d4d">Chemical carcinogenesis</text>
<line x1="656.0" y1="2059.95" x2="662.5" y2="2059.95" stroke="#5a5a5a" stroke-width="2"/>
<text transform="translate(652.30 2069.55) scale(0.9410 1.0000)" font-size="27.0" text-anchor="end" fill="#4d4d4d">Butanoate metabolism</text>
<line x1="656.0" y1="2111.90" x2="662.5" y2="2111.90" stroke="#5a5a5a" stroke-width="2"/>
<text transform="translate(652.30 2121.50) scale(0.9410 1.0000)" font-size="27.0" text-anchor="end" fill="#4d4d4d">Focal adhesion</text>
<line x1="656.0" y1="2163.85" x2="662.5" y2="2163.85" stroke="#5a5a5a" stroke-width="2"/>
<text transform="translate(652.30 2173.45) scale(0.9410 1.0000)" font-size="27.0" text-anchor="end" fill="#4d4d4d">Metabolism of xenobiotics by cytochrome P450</text>
<line x1="656.0" y1="2215.80" x2="662.5" y2="2215.80" stroke="#5a5a5a" stroke-width="2"/>
<text transform="translate(652.30 2225.40) scale(0.9410 1.0000)" font-size="27.0" text-anchor="end" fill="#4d4d4d">Rap1 signaling pathway</text>
<line x1="656.0" y1="2267.75" x2="662.5" y2="2267.75" stroke="#5a5a5a" stroke-width="2"/>
<text transform="translate(652.30 2277.35) scale(0.9410 1.0000)" font-size="27.0" text-anchor="end" fill="#4d4d4d">Fatty acid elongation</text>
<line x1="656.0" y1="2319.70" x2="662.5" y2="2319.70" stroke="#5a5a5a" stroke-width="2"/>
<text transform="translate(652.30 2329.30) scale(0.9410 1.0000)" font-size="27.0" text-anchor="end" fill="#4d4d4d">Lysine degradation</text>
<line x1="656.0" y1="2371.65" x2="662.5" y2="2371.65" stroke="#5a5a5a" stroke-width="2"/>
<text transform="translate(652.30 2381.25) scale(0.9410 1.0000)" font-size="27.0" text-anchor="end" fill="#4d4d4d">Tryptophan metabolism</text>
<line x1="672.20" y1="2401.6" x2="672.20" y2="2408.2" stroke="#5a5a5a" stroke-width="1.8"/>
<text transform="translate(672.20 2429.00) scale(0.8500 0.7560)" font-size="31" text-anchor="middle" fill="#4d4d4d">0</text>
<line x1="722.20" y1="2401.6" x2="722.20" y2="2408.2" stroke="#5a5a5a" stroke-width="1.8"/>
<text transform="translate(722.20 2429.00) scale(0.8500 0.7560)" font-size="31" text-anchor="middle" fill="#4d4d4d">10</text>
<line x1="772.20" y1="2401.6" x2="772.20" y2="2408.2" stroke="#5a5a5a" stroke-width="1.8"/>
<text transform="translate(772.20 2429.00) scale(0.8500 0.7560)" font-size="31" text-anchor="middle" fill="#4d4d4d">20</text>
<line x1="822.20" y1="2401.6" x2="822.20" y2="2408.2" stroke="#5a5a5a" stroke-width="1.8"/>
<text transform="translate(822.20 2429.00) scale(0.8500 0.7560)" font-size="31" text-anchor="middle" fill="#4d4d4d">30</text>
<line x1="872.20" y1="2401.6" x2="872.20" y2="2408.2" stroke="#5a5a5a" stroke-width="1.8"/>
<text transform="translate(872.20 2429.00) scale(0.8500 0.7560)" font-size="31" text-anchor="middle" fill="#4d4d4d">40</text>
<text transform="translate(772.00 2451.60) scale(0.9610 0.8300)" font-size="22.5" text-anchor="middle" fill="#111">Counts per pathway</text>
<text transform="translate(99.00 1878.00) rotate(-90) scale(1.0450 1.0000)" font-size="22.4" text-anchor="middle" fill="#111">KEGG pathways</text>
<text transform="translate(252.00 1331.80) scale(0.9215 1.0000)" font-size="46.8" text-anchor="start" fill="#000" font-weight="bold">The top 20 important significant KEGG</text>
<text transform="translate(83.80 1326.00) scale(1.0500 1.0000)" font-size="54.5" text-anchor="start" fill="#000" style="font-variant:small-caps">c</text>
<defs><linearGradient id="gc" x1="0" y1="0" x2="0" y2="1"><stop offset="0%" stop-color="#1c0e88"/><stop offset="10%" stop-color="#580e8a"/><stop offset="20%" stop-color="#880e88"/><stop offset="30%" stop-color="#a80e86"/><stop offset="40%" stop-color="#c40e82"/><stop offset="50%" stop-color="#d60d74"/><stop offset="60%" stop-color="#e20d5e"/><stop offset="70%" stop-color="#e90c48"/><stop offset="80%" stop-color="#f00c34"/><stop offset="90%" stop-color="#f60a1e"/><stop offset="100%" stop-color="#fd080a"/></linearGradient></defs>
<rect x="913.6" y="1803.2" width="34.39999999999998" height="184.0" fill="url(#gc)"/>
<line x1="913.6" y1="1813.0" x2="920.48" y2="1813.0" stroke="#fff" stroke-opacity="0.35" stroke-width="1.2"/>
<line x1="941.12" y1="1813.0" x2="948.0" y2="1813.0" stroke="#fff" stroke-opacity="0.35" stroke-width="1.2"/>
<text transform="translate(959.40 1819.30)" font-size="17.5" text-anchor="start" fill="#222">0.006</text>
<line x1="913.6" y1="1870.9" x2="920.48" y2="1870.9" stroke="#fff" stroke-opacity="0.35" stroke-width="1.2"/>
<line x1="941.12" y1="1870.9" x2="948.0" y2="1870.9" stroke="#fff" stroke-opacity="0.35" stroke-width="1.2"/>
<text transform="translate(959.40 1877.20)" font-size="17.5" text-anchor="start" fill="#222">0.004</text>
<line x1="913.6" y1="1929.1" x2="920.48" y2="1929.1" stroke="#fff" stroke-opacity="0.35" stroke-width="1.2"/>
<line x1="941.12" y1="1929.1" x2="948.0" y2="1929.1" stroke="#fff" stroke-opacity="0.35" stroke-width="1.2"/>
<text transform="translate(959.40 1935.40)" font-size="17.5" text-anchor="start" fill="#222">0.002</text>
<text transform="translate(914.30 1788.60) scale(1.0340 1.0000)" font-size="20.5" text-anchor="start" fill="#111"><tspan font-style="italic">p</tspan>.adjust</text>
<circle cx="1437.3" cy="1727.6" r="244.4" fill="#7bbb7d" fill-opacity="0.5"/>
<circle cx="1755.1" cy="1727.6" r="244.4" fill="#b8a6d2" fill-opacity="0.5"/>
<circle cx="1595.2" cy="1991.8" r="244.4" fill="#eec96c" fill-opacity="0.5"/>
<text transform="translate(1186.60 1475.30) scale(1.0340 1.0000)" font-size="27.5" text-anchor="start" fill="#cbe4cc">SAT-VAT</text>
<text transform="translate(1846.80 1475.30) scale(1.0340 1.0000)" font-size="27.5" text-anchor="start" fill="#e1daec">SAT-AAT</text>
<text transform="translate(1521.50 2283.70) scale(1.0340 1.0000)" font-size="27.5" text-anchor="start" fill="#f7e9c0">VAT-AAT</text>
<text transform="translate(1340.40 1669.70)" font-size="27.6" text-anchor="middle" fill="#111" font-weight="bold">43</text>
<text transform="translate(1594.30 1669.70)" font-size="27.6" text-anchor="middle" fill="#111" font-weight="bold">12</text>
<text transform="translate(1831.60 1669.70)" font-size="27.6" text-anchor="middle" fill="#111" font-weight="bold">6</text>
<text transform="translate(1594.30 1822.70)" font-size="27.6" text-anchor="middle" fill="#111" font-weight="bold">14</text>
<text transform="translate(1441.50 1914.70)" font-size="27.6" text-anchor="middle" fill="#111" font-weight="bold">30</text>
<text transform="translate(1750.70 1914.70)" font-size="27.6" text-anchor="middle" fill="#111" font-weight="bold">1</text>
<text transform="translate(1597.90 2140.70)" font-size="27.6" text-anchor="middle" fill="#111" font-weight="bold">4</text>
<text transform="translate(1089.00 1327.00)" font-size="50" text-anchor="start" fill="#000">d</text>
</svg>
</body>
</html>
